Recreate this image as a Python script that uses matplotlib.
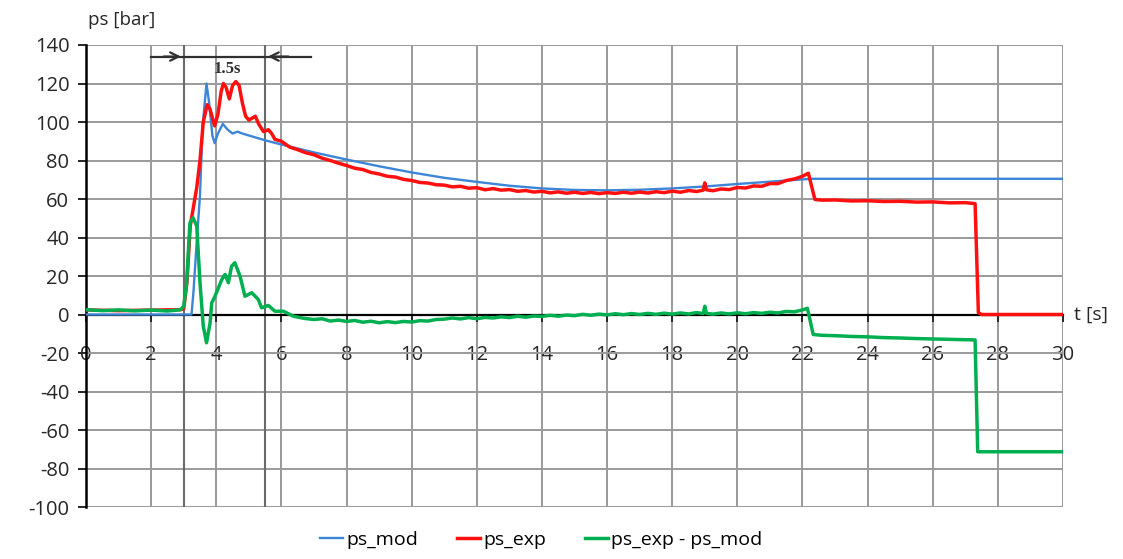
import matplotlib.pyplot as plt

plt.rcParams['font.family'] = ['Open Sans', 'DejaVu Sans']
plt.rcParams['axes.unicode_minus'] = False

# ps_mod (model)
t_mod = [0, 3.24, 3.3, 3.4, 3.5, 3.58, 3.7, 3.78, 3.88, 3.95, 4.05, 4.2, 4.35, 4.5, 4.65,
         4.8, 5.0, 5.5, 6, 7, 8, 9, 10, 11, 12, 13, 14, 15, 16, 17, 18, 19, 20, 21, 22,
         22.3, 30]
ps_mod = [0, 0, 12, 38, 62, 98, 120, 110, 93, 89, 94, 99, 96, 94, 95,
          94, 93, 90.5, 88.3, 84.2, 80.5, 77, 73.8, 71, 68.9, 66.9, 65.5, 64.7, 64.5, 64.8,
          65.5, 66.5, 67.8, 69, 70.2, 70.5, 70.5]

# ps_exp (measured)
t_exp = [0, 1, 2, 2.9, 3.0, 3.1, 3.2, 3.3, 3.4, 3.5, 3.6, 3.72, 3.8, 3.95, 4.05, 4.15,
         4.22, 4.3, 4.4, 4.5, 4.6, 4.7, 4.8, 4.9, 5.0, 5.1, 5.2, 5.3, 5.45, 5.6, 5.7, 5.8,
         6.0, 6.25, 6.5, 6.75, 7.0, 7.25, 7.5, 7.75, 8.0, 8.25, 8.5, 8.75, 9.0, 9.25, 9.5,
         9.75, 10.0, 10.25, 10.5, 10.75, 11.0, 11.25, 11.5, 11.75, 12.0, 12.25, 12.5, 12.75,
         13.0, 13.25, 13.5, 13.75, 14.0, 14.25, 14.5, 14.75, 15.0, 15.25, 15.5, 15.75, 16.0,
         16.25, 16.5, 16.75, 17.0, 17.25, 17.5, 17.75, 18.0, 18.25, 18.5, 18.75, 18.95, 19.0,
         19.05, 19.25, 19.5, 19.75, 20.0, 20.25, 20.5, 20.75, 21.0, 21.25, 21.5, 21.75, 22.0,
         22.18, 22.38, 22.6, 23.0, 23.5, 24.0, 24.5, 25.0, 25.5, 26.0, 26.5, 27.0, 27.3,
         27.4, 27.5, 30]
ps_exp = [2.4, 2.0, 2.3, 2.5, 3, 17, 46, 56, 66, 80, 100, 109, 107, 98, 104, 116,
          120, 118, 112, 119, 121, 119, 110, 103, 101, 102, 103, 99, 95, 96, 94, 91,
          90.0, 87.0, 85.6, 84.0, 83.0, 81.2, 80.0, 78.6, 77.4, 76.0, 75.3, 73.8, 73.0, 71.8, 71.4,
          70.2, 69.6, 68.6, 68.3, 67.4, 67.2, 66.3, 66.6, 65.6, 65.9, 64.8, 65.4, 64.6,
          64.9, 64.0, 64.4, 63.6, 64.0, 63.2, 63.7, 63.0, 63.5, 62.9, 63.4, 62.8, 63.3,
          62.9, 63.5, 63.0, 63.6, 63.1, 63.8, 63.3, 64.1, 63.5, 64.4, 63.9, 64.6, 68.4,
          64.8, 64.3, 65.2, 64.9, 66.0, 65.7, 66.8, 66.6, 68.0, 68.0, 69.6, 70.4, 71.8,
          73.4, 59.8, 59.4, 59.5, 59.0, 59.1, 58.7, 58.8, 58.4, 58.5, 58.0, 58.1, 57.6,
          1, 0, 0]

# ps_exp - ps_mod
t_diff = [0, 0.5, 1, 1.5, 2, 2.5, 2.9, 3.0, 3.09, 3.19, 3.29, 3.4, 3.5, 3.6, 3.7, 3.81,
          3.86, 3.96, 4.17, 4.27, 4.37, 4.47, 4.57, 4.73, 4.88, 5.09, 5.29, 5.39, 5.6, 5.8,
          6.06, 6.37, 6.7, 7.0, 7.25, 7.5, 7.75, 8.0, 8.25, 8.5, 8.75, 9.0, 9.25, 9.5, 9.75,
          10.0, 10.25, 10.5, 10.75, 11.0, 11.25, 11.5, 11.75, 12.0, 12.25, 12.5, 12.75, 13.0,
          13.25, 13.5, 13.75, 14.0, 14.25, 14.5, 14.75, 15.0, 15.25, 15.5, 15.75, 16.0, 16.25,
          16.5, 16.75, 17.0, 17.25, 17.5, 17.75, 18.0, 18.25, 18.5, 18.75, 18.95, 19.0, 19.05,
          19.25, 19.5, 19.75, 20.0, 20.25, 20.5, 20.75, 21.0, 21.25, 21.5, 21.75, 22.0, 22.15,
          22.33, 22.6, 23.0, 23.5, 24.0, 24.5, 25.0, 25.5, 26.0, 26.5, 27.0, 27.3, 27.38, 30]
ps_diff = [2.5, 2.0, 2.4, 1.9, 2.3, 1.8, 2.5, 4.3, 16.5, 47.6, 50.2, 45.9, 16.5, -6, -14.7, -4.3,
           6, 9.5, 18.2, 20.8, 16.5, 25.1, 26.9, 19.9, 9.5, 11.3, 7.8, 3.5, 4.7, 1.7,
           1.7, -0.9, -2.0, -2.6, -2.2, -3.4, -2.9, -3.6, -3.1, -4.0, -3.5, -4.3, -3.7, -4.2, -3.6,
           -3.9, -3.2, -3.4, -2.6, -2.4, -1.8, -2.3, -1.6, -2.2, -1.5, -1.8, -1.2, -1.6,
           -0.9, -1.4, -0.8, -1.0, -0.4, -0.9, -0.3, -0.6, 0.1, -0.4, 0.2, -0.2, 0.4,
           -0.1, 0.5, 0.0, 0.6, 0.1, 0.7, 0.2, 0.8, 0.3, 1.0, 0.5, 4.3, 0.6,
           0.2, 0.8, 0.3, 0.9, 0.4, 1.0, 0.6, 1.2, 0.8, 1.6, 1.4, 2.4, 3.2,
           -10.4, -10.8, -11.0, -11.4, -11.6, -12.0, -12.2, -12.5, -12.7, -12.9, -13.1, -13.2, -71.3, -71.3]

x_ticks = list(range(0, 31, 2))
y_ticks = list(range(-100, 141, 20))

fig = plt.figure(figsize=(11.23, 5.59), dpi=100)
ax = fig.add_axes([0.0766, 0.093, 0.87, 0.8265])

ax.plot(t_mod, ps_mod, color='#3d85d6', lw=1.7, label='ps_mod', zorder=4)
ax.plot(t_exp, ps_exp, color='#ff1010', lw=2.5, label='ps_exp', zorder=5)
ax.plot(t_diff, ps_diff, color='#00b050', lw=2.5, label='ps_exp - ps_mod', zorder=6)

# marker lines of the 1.5s window
for tx in [3.0, 5.5]:
    ax.axvline(tx, color='#6a6a6a', lw=1.5, zorder=1)
ax.plot([2.0, 6.9], [134, 134], color='#303030', lw=1.6, zorder=3)
ax.annotate('', xy=(3.0, 134), xytext=(2.3, 134),
            arrowprops=dict(arrowstyle='->', color='#303030', lw=1.6, mutation_scale=15))
ax.annotate('', xy=(5.5, 134), xytext=(6.3, 134),
            arrowprops=dict(arrowstyle='->', color='#303030', lw=1.6, mutation_scale=15))
ax.text(4.35, 127.5, '1.5s', family='Liberation Serif', weight='bold', fontsize=12,
        ha='center', va='center', color='#303030')

ax.set_xlim(0, 30)
ax.set_ylim(-100, 140)
ax.set_xticks(x_ticks)
ax.set_yticks(y_ticks)
ax.grid(True, color='#9a9a9a', lw=1.4)
ax.set_axisbelow(True)

ax.spines['top'].set_visible(False)
ax.spines['right'].set_visible(False)
ax.spines['bottom'].set_position(('data', 0))
ax.spines['bottom'].set_linewidth(1.6)
ax.spines['left'].set_linewidth(1.8)
ax.spines['bottom'].set_zorder(3)
ax.tick_params(axis='x', direction='out', length=5, width=1.4, pad=17, labelsize=14.5,
               colors='#262626')
ax.tick_params(axis='y', direction='out', length=6, width=1.4, pad=6, labelsize=14.5,
               colors='#262626')

ax.text(30.35, 0, 't [s]', fontsize=14, ha='left', va='center', color='#262626',
        clip_on=False)
fig.text(88 / 1123, 1 - 20 / 559, 'ps [bar]', fontsize=13.5, ha='left', va='center',
         color='#262626')

fig.legend(loc='center', bbox_to_anchor=(0.482, 0.034), ncol=3, frameon=False,
           fontsize=14, handlelength=1.2, handletextpad=0.15, columnspacing=2.0)

plt.savefig('out.png', dpi=100)
